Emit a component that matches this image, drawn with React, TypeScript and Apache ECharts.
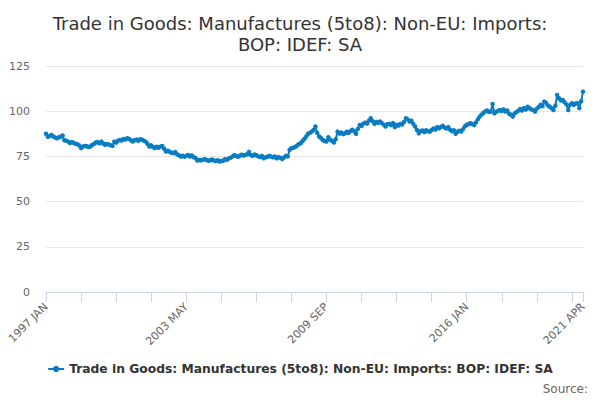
import { useEffect, useRef } from "react";
import * as echarts from "echarts";

const TITLE = "Trade in Goods: Manufactures (5to8): Non-EU: Imports:\nBOP: IDEF: SA";
const SERIES_NAME = "Trade in Goods: Manufactures (5to8): Non-EU: Imports: BOP: IDEF: SA";

const MONTHS = ["JAN", "FEB", "MAR", "APR", "MAY", "JUN", "JUL", "AUG", "SEP", "OCT", "NOV", "DEC"];
const FIRST_YEAR = 1997;

// monthly index values, 1997 JAN .. 2021 APR
const values = [
  87.5, 85.9, 86.3, 86.9, 86.0, 85.4, 85.0, 85.6, 85.9, 86.6, 83.9, 83.6,
  83.2, 82.4, 82.9, 82.5, 82.0, 81.7, 81.0, 79.6, 80.4, 80.8, 80.6, 80.2,
  80.5, 81.3, 81.9, 82.7, 82.9, 82.3, 83.2, 82.1, 81.4, 81.9, 81.6, 81.2,
  80.8, 83.2, 82.6, 83.7, 84.1, 83.8, 84.6, 84.3, 85.0, 84.7, 84.0, 83.2,
  83.9, 84.3, 83.6, 84.5, 84.2, 83.7, 83.2, 82.0, 80.5, 81.1, 80.2, 79.6,
  80.3, 79.8, 80.4, 80.8, 79.2, 77.7, 78.1, 77.5, 77.0, 76.8, 77.4, 76.2,
  75.6, 74.9, 75.4, 74.8, 75.3, 75.8, 74.9, 75.5, 74.6, 74.1, 72.7, 73.0,
  72.8, 73.2, 73.5, 73.0, 72.6, 72.9, 73.3, 72.7, 72.4, 72.9, 72.2, 72.5,
  72.6, 73.4, 73.1, 73.8, 74.2, 74.9, 75.6, 75.3, 74.8, 75.4, 75.9, 75.5,
  75.8, 76.2, 77.5, 75.7, 75.3, 76.1, 75.6, 75.0, 74.6, 75.2, 74.0, 74.5,
  74.8, 75.3, 74.9, 74.5, 75.0, 74.0, 74.6, 74.2, 73.5, 74.4, 75.3, 75.0,
  78.6, 79.5, 79.8, 80.2, 81.0, 81.8, 82.3, 83.5, 84.6, 86.0, 87.5, 88.0,
  88.7, 89.6, 91.5, 88.0, 86.0, 85.2, 84.1, 83.5, 83.2, 85.6, 84.2, 83.6,
  82.7, 84.5, 88.7, 87.6, 88.2, 87.3, 87.8, 88.6, 88.1, 89.0, 89.7, 88.9,
  87.5, 90.2, 92.4, 91.8, 93.1, 93.7, 93.2, 94.8, 96.1, 94.5, 93.0, 94.1,
  93.6, 94.3, 93.4, 92.6, 91.5, 92.8, 93.0, 92.3, 93.4, 91.2, 92.5, 92.0,
  93.0, 92.6, 94.0, 96.1, 95.5, 94.3, 94.8, 93.0, 91.5, 89.6, 87.8, 89.0,
  89.3, 88.4, 89.5, 88.9, 88.7, 89.6, 90.4, 89.8, 91.2, 90.6, 91.3, 91.9,
  91.0, 90.4, 91.2, 89.7, 88.9, 89.5, 87.5, 88.6, 89.2, 88.8, 90.1, 91.6,
  92.5, 92.8, 93.4, 92.9, 92.4, 93.8, 95.5, 97.0, 98.1, 99.0, 99.8, 100.4,
  99.6, 99.8, 104.0, 98.9, 99.7, 100.2, 100.7, 100.1, 101.0, 99.8, 100.4, 98.6,
  98.0, 97.0, 98.8, 99.6, 100.3, 101.2, 100.4, 101.7, 100.9, 102.5, 101.6, 101.0,
  100.6, 99.8, 101.4, 102.3, 103.5, 102.8, 105.3, 104.6, 103.2, 102.5, 101.6, 100.7,
  103.0, 109.0, 107.2, 106.0, 106.2, 105.0, 103.8, 100.7, 103.5, 104.4, 103.6, 104.2,
  104.4, 101.7, 105.5, 110.8,
];

const categories = values.map(
  (_, i) => `${FIRST_YEAR + Math.floor(i / 12)} ${MONTHS[i % 12]}`
);
const last = categories.length - 1;

function App() {
  const chartRef = useRef(null);

  useEffect(() => {
    document.body.style.margin = "0";
    const chart = echarts.init(chartRef.current, null, { renderer: "svg" });

    const option = {
      animation: false,
      title: {
        text: TITLE,
        left: "center",
        top: 8,
        textStyle: {
          fontFamily: "DejaVu Sans",
          fontSize: 18,
          fontWeight: "normal",
          color: "#333333",
          lineHeight: 21,
        },
      },
      grid: { left: 46, right: 17, top: 66, bottom: 108 },
      legend: {
        bottom: 20,
        left: "center",
        itemWidth: 16,
        itemHeight: 8,
        textStyle: {
          fontFamily: "DejaVu Sans",
          fontSize: 12.3,
          fontWeight: "bold",
          color: "#333333",
        },
      },
      xAxis: {
        type: "category",
        data: categories,
        boundaryGap: false,
        axisLine: { lineStyle: { color: "#ccd6eb" } },
        axisTick: {
          length: 10,
          lineStyle: { color: "#ccd6eb" },
          interval: (i: number) => i % 19 === 0 || i === last,
        },
        axisLabel: {
          rotate: 45,
          margin: 13,
          fontFamily: "DejaVu Sans",
          fontSize: 11,
          color: "#666666",
          interval: (i: number) => i % 76 === 0 || i === last,
        },
      },
      yAxis: {
        type: "value",
        min: 0,
        max: 125,
        interval: 25,
        axisLabel: {
          margin: 16,
          fontFamily: "DejaVu Sans",
          fontSize: 11,
          color: "#666666",
        },
        splitLine: { lineStyle: { color: "#e6e6e6" } },
      },
      series: [
        {
          name: SERIES_NAME,
          type: "line",
          data: values,
          color: "#0a7dc2",
          symbol: "circle",
          symbolSize: 4.5,
          showAllSymbol: true,
          lineStyle: { width: 2 },
        },
      ],
      graphic: [
        {
          type: "text",
          right: 12,
          bottom: 5,
          style: {
            text: "Source:",
            fontFamily: "DejaVu Sans",
            fontSize: 12,
            fill: "#666666",
          },
        },
      ],
    };

    chart.setOption(option);

    return () => {
      chart.dispose();
    };
  }, []);

  return <div ref={chartRef} style={{ width: "600px", height: "400px" }} />;
}

export default App;
